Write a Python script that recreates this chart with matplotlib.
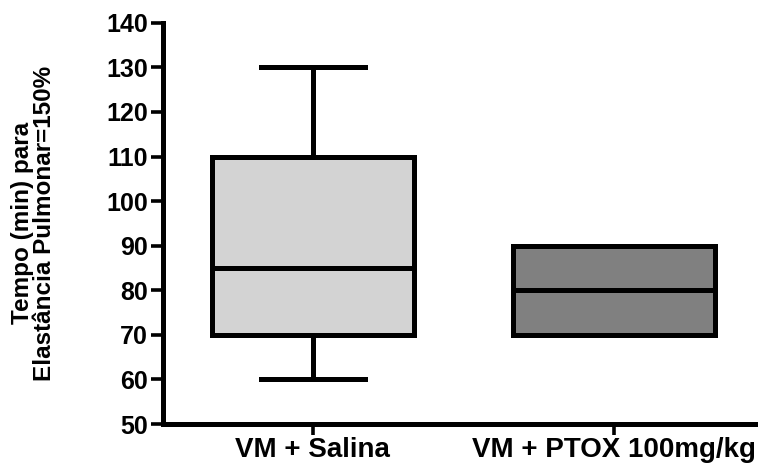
import matplotlib
matplotlib.use("Agg")
import matplotlib.pyplot as plt

# -----------------------
# Data
# -----------------------
groups = ['VM + Salina', 'VM + PTOX 100mg/kg']
whisker_low = [60, 70]
q1 = [70, 70]
median = [85, 80]
q3 = [110, 90]
whisker_high = [130, 90]
box_colors = ['#d3d3d3', '#808080']
y_ticks = [50, 60, 70, 80, 90, 100, 110, 120, 130, 140]

plt.rcParams['font.family'] = ['Liberation Sans', 'DejaVu Sans']
plt.rcParams['font.weight'] = 'bold'

fig = plt.figure(figsize=(7.58, 4.66), dpi=100)
ax = fig.add_axes([0.215, 0.090, 0.785, 0.861])

stats = []
for i, name in enumerate(groups):
    stats.append({'label': name, 'whislo': whisker_low[i], 'q1': q1[i],
                  'med': median[i], 'q3': q3[i], 'whishi': whisker_high[i],
                  'fliers': []})

lw = 3.6
bp = ax.bxp(stats, positions=[1, 2], widths=0.67, capwidths=0.345,
            patch_artist=True, showfliers=False,
            boxprops=dict(linewidth=lw, edgecolor='black'),
            medianprops=dict(linewidth=lw, color='black'),
            whiskerprops=dict(linewidth=lw, color='black'),
            capprops=dict(linewidth=lw, color='black'))
for patch, c in zip(bp['boxes'], box_colors):
    patch.set_facecolor(c)
    patch.set_joinstyle('miter')

ax.set_xlim(0.502, 2.478)
ax.set_ylim(50, 140)
ax.set_yticks(y_ticks)
ax.set_xticks([1, 2])
ax.set_xticklabels(groups)

for s in ['top', 'right']:
    ax.spines[s].set_visible(False)
for s in ['left', 'bottom']:
    ax.spines[s].set_linewidth(3.6)
    ax.spines[s].set_capstyle('projecting')

ax.tick_params(axis='y', direction='out', length=9, width=2.6, pad=2,
               labelsize=18)
ax.tick_params(axis='x', direction='out', length=8, width=2.6, pad=1,
               labelsize=20)
for lab in ax.get_xticklabels() + ax.get_yticklabels():
    lab.set_fontweight('bold')

fig.text(0.044, 0.521, 'Tempo (min) para\nElastância Pulmonar=150%',
         rotation=90, ha='center', va='center', fontsize=17.5,
         fontweight='bold', linespacing=0.95)

fig.savefig('out.png', dpi=100)
